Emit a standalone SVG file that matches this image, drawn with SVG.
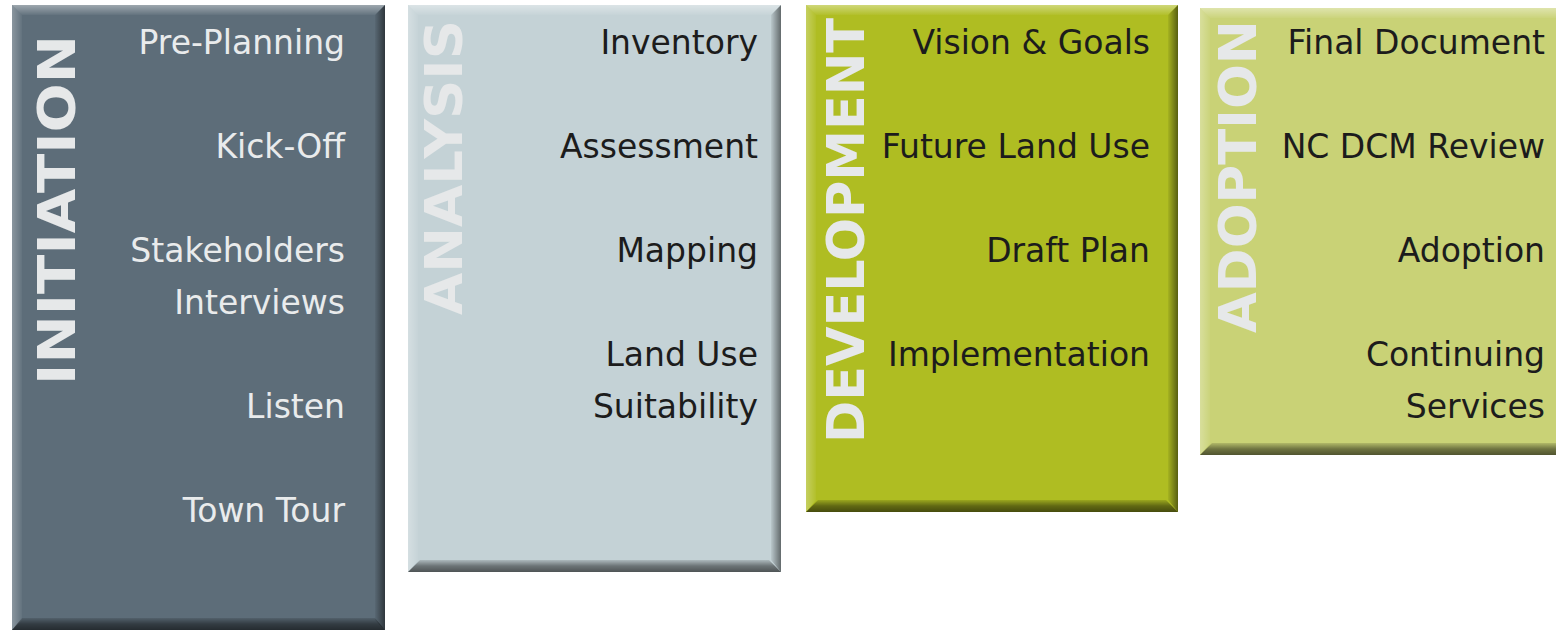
<svg xmlns="http://www.w3.org/2000/svg" width="1556" height="630" viewBox="0 0 1556 630">
  <defs>
    <!-- bevel shading, applied per edge strip -->
    <linearGradient id="bevTop" x1="0" y1="0" x2="0" y2="1">
      <stop offset="0" stop-color="#ffffff" stop-opacity="0.4"/>
      <stop offset="1" stop-color="#ffffff" stop-opacity="0.04"/>
    </linearGradient>
    <linearGradient id="bevLeft" x1="0" y1="0" x2="1" y2="0">
      <stop offset="0" stop-color="#ffffff" stop-opacity="0.28"/>
      <stop offset="1" stop-color="#ffffff" stop-opacity="0.04"/>
    </linearGradient>
    <linearGradient id="bevRight" x1="0" y1="0" x2="1" y2="0">
      <stop offset="0" stop-color="#000000" stop-opacity="0.05"/>
      <stop offset="1" stop-color="#000000" stop-opacity="0.5"/>
    </linearGradient>
    <linearGradient id="bevBottom" x1="0" y1="0" x2="0" y2="1">
      <stop offset="0" stop-color="#000000" stop-opacity="0.12"/>
      <stop offset="0.5" stop-color="#000000" stop-opacity="0.45"/>
      <stop offset="1" stop-color="#000000" stop-opacity="0.6"/>
    </linearGradient>
  </defs>
  <style>
    .item { font-family: "DejaVu Sans", Verdana, sans-serif; font-size: 33px; text-anchor: end; }
    .dark { fill: #1c1c1c; }
    .light { fill: #e9ebec; }
    .title { font-family: "DejaVu Sans", Verdana, sans-serif; font-weight: bold; font-size: 52px; fill: #e6e8e9; }
    .bt { fill: url(#bevTop); }
    .bl { fill: url(#bevLeft); }
    .br { fill: url(#bevRight); }
    .bb { fill: url(#bevBottom); }
  </style>

  <rect width="1556" height="630" fill="#ffffff"/>

  <!-- Phase 1: Initiation -->
  <g id="initiation">
    <rect x="12" y="5" width="373" height="625" fill="#5d6d79"/>
    <polygon class="bt" points="12,5 385,5 375,15 22,15"/>
    <polygon class="bl" points="12,5 22,15 22,620 12,630"/>
    <polygon class="br" points="385,5 385,630 375,620 375,15"/>
    <polygon class="bb" points="12,630 22,618 375,618 385,630"/>
    <text class="title" transform="translate(75,385) rotate(-90)" textLength="350" lengthAdjust="spacingAndGlyphs">INITIATION</text>
    <text class="item light" x="345" y="54">Pre-Planning</text>
    <text class="item light" x="345" y="158">Kick-Off</text>
    <text class="item light" x="345" y="262">Stakeholders</text>
    <text class="item light" x="345" y="314">Interviews</text>
    <text class="item light" x="345" y="418">Listen</text>
    <text class="item light" x="345" y="522">Town Tour</text>
  </g>

  <!-- Phase 2: Analysis -->
  <g id="analysis">
    <rect x="408" y="5" width="373" height="567" fill="#c4d2d6"/>
    <polygon class="bt" points="408,5 781,5 771,15 418,15"/>
    <polygon class="bl" points="408,5 418,15 418,560 408,572"/>
    <polygon class="br" points="781,5 781,572 771,560 771,15"/>
    <polygon class="bb" points="408,572 420,560 769,560 781,572"/>
    <text class="title" transform="translate(462,315) rotate(-90)" textLength="295" lengthAdjust="spacingAndGlyphs">ANALYSIS</text>
    <text class="item dark" x="758" y="54">Inventory</text>
    <text class="item dark" x="758" y="158">Assessment</text>
    <text class="item dark" x="758" y="262">Mapping</text>
    <text class="item dark" x="758" y="366">Land Use</text>
    <text class="item dark" x="758" y="418">Suitability</text>
  </g>

  <!-- Phase 3: Development -->
  <g id="development">
    <rect x="806" y="5" width="372" height="507" fill="#afbd22"/>
    <polygon class="bt" points="806,5 1178,5 1168,15 816,15"/>
    <polygon class="bl" points="806,5 816,15 816,500 806,512"/>
    <polygon class="br" points="1178,5 1178,512 1168,500 1168,15"/>
    <polygon class="bb" points="806,512 818,500 1166,500 1178,512"/>
    <text class="title" transform="translate(864,443) rotate(-90)" textLength="425" lengthAdjust="spacingAndGlyphs">DEVELOPMENT</text>
    <text class="item dark" x="1150" y="54">Vision &amp; Goals</text>
    <text class="item dark" x="1150" y="158">Future Land Use</text>
    <text class="item dark" x="1150" y="262">Draft Plan</text>
    <text class="item dark" x="1150" y="366">Implementation</text>
  </g>

  <!-- Phase 4: Adoption (runs off the right edge) -->
  <g id="adoption">
    <rect x="1200" y="8" width="370" height="447" fill="#c9d276"/>
    <polygon class="bt" points="1200,8 1570,8 1560,18 1210,18"/>
    <polygon class="bl" points="1200,8 1210,18 1210,443 1200,455"/>
    <polygon class="bb" points="1200,455 1212,443 1570,443 1570,455"/>
    <text class="title" transform="translate(1256,333) rotate(-90)" textLength="313" lengthAdjust="spacingAndGlyphs">ADOPTION</text>
    <text class="item dark" x="1545" y="54">Final Document</text>
    <text class="item dark" x="1545" y="158">NC DCM Review</text>
    <text class="item dark" x="1545" y="262">Adoption</text>
    <text class="item dark" x="1545" y="366">Continuing</text>
    <text class="item dark" x="1545" y="418">Services</text>
  </g>

  <!-- no connectors in this diagram -->
  <g id="connectors"/>
</svg>
